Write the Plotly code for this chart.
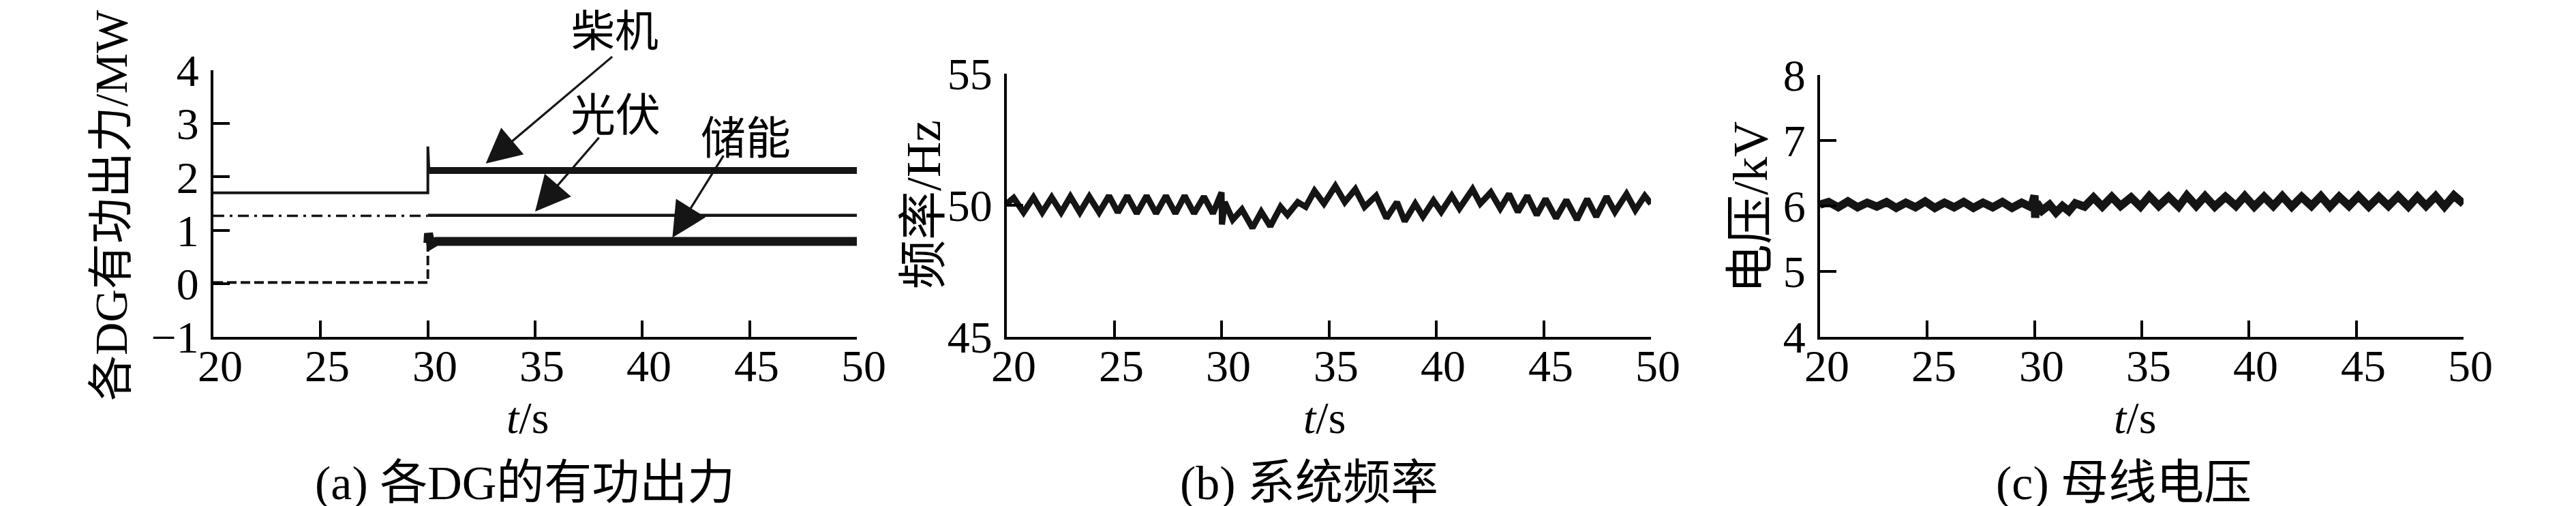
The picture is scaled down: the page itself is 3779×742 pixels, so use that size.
import plotly.graph_objects as go

FONT = "Liberation Serif, Noto Sans CJK SC, serif"
INK = "#151515"
W, H = 3779, 742
OFF = 8  # the page body adds an 8 px margin around the figure

# ---- (a) active power of each DG, MW ----
diesel_pre_t = [20, 30, 30, 30.05]
diesel_pre_p = [1.70, 1.70, 2.57, 2.12]
diesel_post_t = [30.05, 50]
diesel_post_p = [2.12, 2.12]

pv_pre_t = [20, 30]
pv_pre_p = [1.27, 1.27]
pv_post_t = [30, 50]
pv_post_p = [1.28, 1.28]

ess_pre_t = [20, 30, 30]
ess_pre_p = [0.02, 0.02, 0.76]
ess_post_t = [30.0, 30.03, 30.15, 30.4, 50]
ess_post_p = [0.76, 0.94, 0.73, 0.79, 0.79]

# ---- (b) system frequency, Hz (extrema) ----
freq_t = [20.0, 20.32, 20.78, 21.24, 21.65, 22.09, 22.53, 22.96, 23.40, 23.84,
          24.30, 24.76, 25.17, 25.61, 26.05, 26.51, 26.95, 27.41, 27.85, 28.28,
          28.72, 29.18, 29.60, 30.0, 30.02, 30.15, 30.52, 30.95, 31.44, 31.85,
          32.27, 32.75, 33.07, 33.55, 33.92, 34.33, 34.77, 35.30, 35.74, 36.23,
          36.66, 37.20, 37.68, 38.17, 38.53, 39.02, 39.38, 39.87, 40.23, 40.72,
          41.08, 41.69, 42.05, 42.54, 42.98, 43.39, 43.80, 44.24, 44.68, 45.09,
          45.58, 46.06, 46.55, 47.03, 47.45, 47.93, 48.32, 48.86, 49.27, 49.71,
          50.0]
freq_f = [50.06, 50.28, 49.73, 50.30, 49.73, 50.30, 49.73, 50.33, 49.73, 50.33,
          49.73, 50.36, 49.73, 50.36, 49.69, 50.36, 49.69, 50.36, 49.69, 50.36,
          49.69, 50.33, 49.69, 50.49, 49.27, 50.12, 49.45, 49.84, 49.14, 49.75,
          49.20, 49.94, 49.63, 50.12, 49.94, 50.55, 50.06, 50.73, 50.12, 50.61,
          49.94, 50.36, 49.51, 50.12, 49.39, 50.06, 49.57, 50.18, 49.75, 50.36,
          49.88, 50.61, 50.06, 50.49, 49.88, 50.43, 49.75, 50.36, 49.63, 50.24,
          49.51, 50.20, 49.45, 50.24, 49.57, 50.33, 49.75, 50.43, 49.82, 50.36,
          50.06]

# ---- (c) bus voltage, kV ----
volt_t = [20.0, 20.4, 20.85, 21.3, 21.75, 22.2, 22.65, 23.1, 23.55, 24.0,
          24.45, 24.9, 25.35, 25.8, 26.25, 26.7, 27.15, 27.6, 28.05, 28.5,
          28.95, 29.4, 29.85, 30.0, 30.03, 30.1, 30.35, 30.7, 31.0, 31.3,
          31.6, 31.9, 32.33, 32.75, 33.16, 33.6, 34.01, 34.5, 34.94, 35.35,
          35.79, 36.25, 36.72, 37.1, 37.54, 37.95, 38.40, 38.9, 39.39, 39.8,
          40.24, 40.7, 41.13, 41.55, 41.99, 42.45, 42.91, 43.35, 43.77, 44.2,
          44.66, 45.1, 45.58, 46.05, 46.50, 46.95, 47.43, 47.85, 48.25, 48.7,
          49.11, 49.55, 50.0]
volt_v = [6.02, 6.06, 5.98, 6.07, 5.98, 6.05, 5.99, 6.06, 5.97, 6.05,
          5.98, 6.07, 5.97, 6.05, 5.98, 6.06, 5.97, 6.05, 5.98, 6.06,
          5.97, 6.05, 5.98, 6.16, 5.82, 6.05, 5.93, 6.02, 5.90, 6.00,
          5.92, 6.04, 5.99, 6.13, 5.99, 6.14, 6.00, 6.13, 5.99, 6.15,
          6.00, 6.14, 5.99, 6.16, 6.00, 6.15, 5.99, 6.14, 6.00, 6.15,
          5.99, 6.14, 6.00, 6.15, 5.99, 6.14, 6.00, 6.15, 5.99, 6.14,
          6.00, 6.15, 5.99, 6.14, 6.00, 6.15, 5.99, 6.14, 6.00, 6.15,
          5.99, 6.16, 6.03]

x_ticks = [20, 25, 30, 35, 40, 45, 50]


def px(x):
    return (x - OFF) / W


def py(y):
    return 1 - (y - OFF) / H


fig = go.Figure()

def line(x, y, axis, width, dash="solid"):
    fig.add_trace(go.Scatter(
        x=x, y=y, mode="lines", xaxis="x" + axis, yaxis="y" + axis,
        line=dict(color=INK, width=width, dash=dash),
        hoverinfo="skip", showlegend=False,
    ))

line(diesel_pre_t, diesel_pre_p, "", 4)
line(diesel_post_t, diesel_post_p, "", 10)
line(pv_pre_t, pv_pre_p, "", 3.5, "16px,8px,4px,8px")
line(pv_post_t, pv_post_p, "", 4.5)
line(ess_pre_t, ess_pre_p, "", 4, "14px,6px")
line(ess_post_t, ess_post_p, "", 13)
line(freq_t, freq_f, "2", 9)
line(volt_t, volt_v, "3", 12)

axis_style = dict(
    showline=True, linecolor="black", linewidth=4,
    ticks="inside", ticklen=24, tickwidth=4, tickcolor="black",
    showgrid=False, zeroline=False, automargin=False,
    tickfont=dict(family=FONT, size=66, color="black"),
)

def xaxis(x0, x1, anchor):
    # labels are drawn as annotations below (they sit tight under the axis)
    return dict(axis_style, domain=[px(x0), px(x1)], anchor=anchor,
                range=[20, 50], tickvals=x_ticks, showticklabels=False)

def yaxis(top, anchor, rng, vals, text):
    return dict(axis_style, domain=[py(494), py(top)], anchor=anchor,
                range=rng, tickvals=vals, ticktext=text, ticklabelstandoff=4)

fig.update_layout(
    template="none",
    width=W, height=H, autosize=False,
    margin=dict(l=0, r=0, t=0, b=0, pad=0, autoexpand=False),
    paper_bgcolor="white", plot_bgcolor="white",
    showlegend=False,
    xaxis=xaxis(313, 1257, "y"),
    yaxis=yaxis(103, "x", [-1, 4], [-1, 0, 1, 2, 3, 4],
                ["\u22121", "0", "1", "2", "3", "4"]),
    xaxis2=xaxis(1477, 2422, "y2"),
    yaxis2=yaxis(108, "x2", [45, 55], [45, 50, 55], ["45", "50", "55"]),
    xaxis3=xaxis(2670, 3614, "y3"),
    yaxis3=yaxis(110, "x3", [4, 8], [4, 5, 6, 7, 8],
                 ["4", "5", "6", "7", "8"]),
)

ann = []
txt_font = dict(family=FONT, size=66, color="black")
cap_font = dict(family=FONT, size=70, color="black")

def text(x, y, t, font, angle=0, xref="paper"):
    ann.append(dict(x=x, y=y, xref=xref, yref="paper", text=t,
                    textangle=angle, showarrow=False, font=font,
                    xanchor="center", yanchor="middle"))

# x tick labels
for xr in ["x", "x2", "x3"]:
    for v in x_ticks:
        text(v, py(536), str(v), txt_font, xref=xr)
        ann[-1]["xshift"] = 10

# axis titles
text(px(163), py(301), "各DG有功出力/MW", dict(txt_font, size=67), -90)
text(px(1355), py(300), "频率/Hz", dict(txt_font, size=72), -90)
text(px(2568), py(304), "电压/kV", dict(txt_font, size=72), -90)

for xs, xc, cap in [(774, 770, "(a) 各DG的有功出力"),
                    (1943, 1920, "(b) 系统频率"),
                    (3132, 3115, "(c) 母线电压")]:
    text(px(xs), py(612), "<i>t</i>/s", txt_font)
    text(px(xc), py(708), cap, cap_font)

# series labels in (a)
text(px(902), py(47), "柴机", dict(txt_font, size=64))
text(px(903), py(169), "光伏", txt_font)
text(px(1094), py(204), "储能", txt_font)

# arrows pointing at the series
for hx, hy, dx, dy in [(32.7, 2.25, 187, -158),
                       (35.0, 1.35, 95, -110),
                       (41.4, 0.86, 76, -122)]:
    ann.append(dict(x=hx, y=hy, xref="x", yref="y", ax=dx, ay=dy,
                    axref="pixel", ayref="pixel", text="", showarrow=True,
                    arrowhead=2, arrowsize=3.2, arrowwidth=3.2,
                    arrowcolor=INK))

fig.update_layout(annotations=ann)

fig.write_html("out.html")
